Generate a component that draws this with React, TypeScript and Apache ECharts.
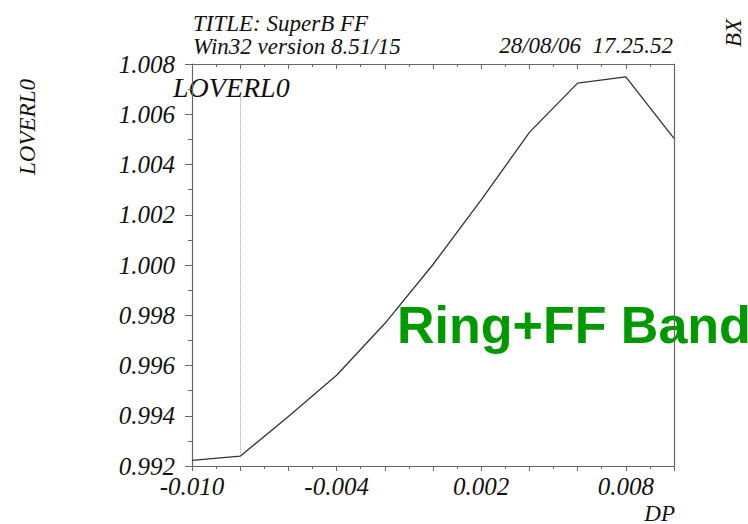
import React, { useEffect, useRef } from "react";
import * as echarts from "echarts";

const dpValues = [-0.01, -0.008, -0.006, -0.004, -0.002, 0.0, 0.002, 0.004, 0.006, 0.008, 0.01];
const loverl0Values = [0.99222, 0.99239, 0.99397, 0.99561, 0.99767, 1.00002, 1.00259, 1.00528, 1.00724, 1.00749, 1.00504];
const markerX = -0.008;
const markerTop = 1.00674;
const markerBottom = 0.99239;
const titleLines = ["TITLE: SuperB FF", "Win32 version 8.51/15"];
const dateText = "28/08/06  17.25.52";
const bandText = "Ring+FF Band";

const SERIF = "Liberation Serif";

export default function App() {
  const ref = useRef<HTMLDivElement>(null);
  useEffect(() => {
    document.body.style.margin = "0";
    if (!ref.current) return;
    const chart = echarts.init(ref.current, null, { renderer: "svg" });
    const axisColor = "#666";
    const xLabelFmt = (v: number) => {
      const idx = Math.round((v + 0.01) / 0.002);
      return idx % 3 === 0 ? v.toFixed(3) : "";
    };
    chart.setOption({
      animation: false,
      backgroundColor: "#fff",
      grid: { left: 192, top: 64, width: 482, height: 402, containLabel: false },
      xAxis: [
        {
          type: "value",
          position: "bottom",
          min: -0.01,
          max: 0.01,
          interval: 0.002,
          axisLine: { show: true, onZero: false, lineStyle: { color: axisColor, width: 1.2 } },
          axisTick: { show: true, inside: false, length: 5, lineStyle: { color: axisColor } },
          minorTick: { show: true, splitNumber: 2, length: 3, lineStyle: { color: axisColor } },
          splitLine: { show: false },
          axisLabel: {
            formatter: xLabelFmt,
            fontFamily: SERIF,
            fontStyle: "italic",
            fontSize: 25,
            color: "#111",
            margin: 8,
          },
        },
        {
          type: "value",
          position: "top",
          min: -0.01,
          max: 0.01,
          interval: 0.002,
          axisLine: { show: true, onZero: false, lineStyle: { color: axisColor, width: 1.2 } },
          axisTick: { show: true, inside: true, length: 5, lineStyle: { color: axisColor } },
          minorTick: { show: true, splitNumber: 2, length: 3, lineStyle: { color: axisColor } },
          splitLine: { show: false },
          axisLabel: { show: false },
        },
      ],
      yAxis: [
        {
          type: "value",
          position: "left",
          min: 0.992,
          max: 1.008,
          interval: 0.002,
          axisLine: { show: true, onZero: false, lineStyle: { color: axisColor, width: 1.2 } },
          axisTick: { show: true, inside: false, length: 7, lineStyle: { color: axisColor } },
          minorTick: { show: true, splitNumber: 2, length: 4, lineStyle: { color: axisColor } },
          splitLine: { show: false },
          axisLabel: {
            formatter: (v: number) => v.toFixed(3),
            fontFamily: SERIF,
            fontStyle: "italic",
            fontSize: 25,
            color: "#111",
            margin: 17,
          },
        },
        {
          type: "value",
          position: "right",
          min: 0.992,
          max: 1.008,
          interval: 0.002,
          axisLine: { show: true, onZero: false, lineStyle: { color: axisColor, width: 1.2 } },
          axisTick: { show: false },
          splitLine: { show: false },
          axisLabel: { show: false },
        },
      ],
      series: [
        {
          type: "line",
          xAxisIndex: 0,
          yAxisIndex: 0,
          data: dpValues.map((x, i) => [x, loverl0Values[i]]),
          symbol: "none",
          lineStyle: { color: "#333", width: 1.3 },
          silent: true,
          markLine: {
            silent: true,
            symbol: ["none", "none"],
            label: { show: false },
            lineStyle: { type: "dotted", color: "#999", width: 1 },
            data: [[{ coord: [markerX, markerTop] }, { coord: [markerX, markerBottom] }]],
          },
        },
      ],
      graphic: [
        {
          type: "text",
          left: 193,
          top: 12,
          style: { text: titleLines[0], font: `italic 23px ${SERIF}`, fill: "#111" },
        },
        {
          type: "text",
          left: 193,
          top: 35,
          style: { text: titleLines[1], font: `italic 23px ${SERIF}`, fill: "#111" },
        },
        {
          type: "text",
          right: 75,
          top: 34,
          style: { text: dateText, font: `italic 23px ${SERIF}`, fill: "#111" },
        },
        {
          type: "text",
          x: 733,
          y: 33,
          rotation: Math.PI / 2,
          style: { text: "BX", font: `italic 23px ${SERIF}`, fill: "#111", align: "center", verticalAlign: "middle" },
        },
        {
          type: "text",
          x: 27,
          y: 127,
          rotation: Math.PI / 2,
          style: { text: "LOVERL0", font: `italic 23px ${SERIF}`, fill: "#111", align: "center", verticalAlign: "middle" },
        },
        {
          type: "text",
          left: 173,
          top: 73,
          style: { text: "LOVERL0", font: `italic 28px ${SERIF}`, fill: "#111" },
        },
        {
          type: "text",
          right: 73,
          top: 502,
          style: { text: "DP", font: `italic 23px ${SERIF}`, fill: "#111" },
        },
        {
          type: "text",
          left: 397,
          top: 299,
          style: {
            text: bandText,
            font: `bold 52px 'Liberation Sans', Arial, sans-serif`,
            fill: "#009900",
          },
        },
      ],
    });
    return () => chart.dispose();
  }, []);
  return <div ref={ref} style={{ width: 748, height: 524 }} />;
}
